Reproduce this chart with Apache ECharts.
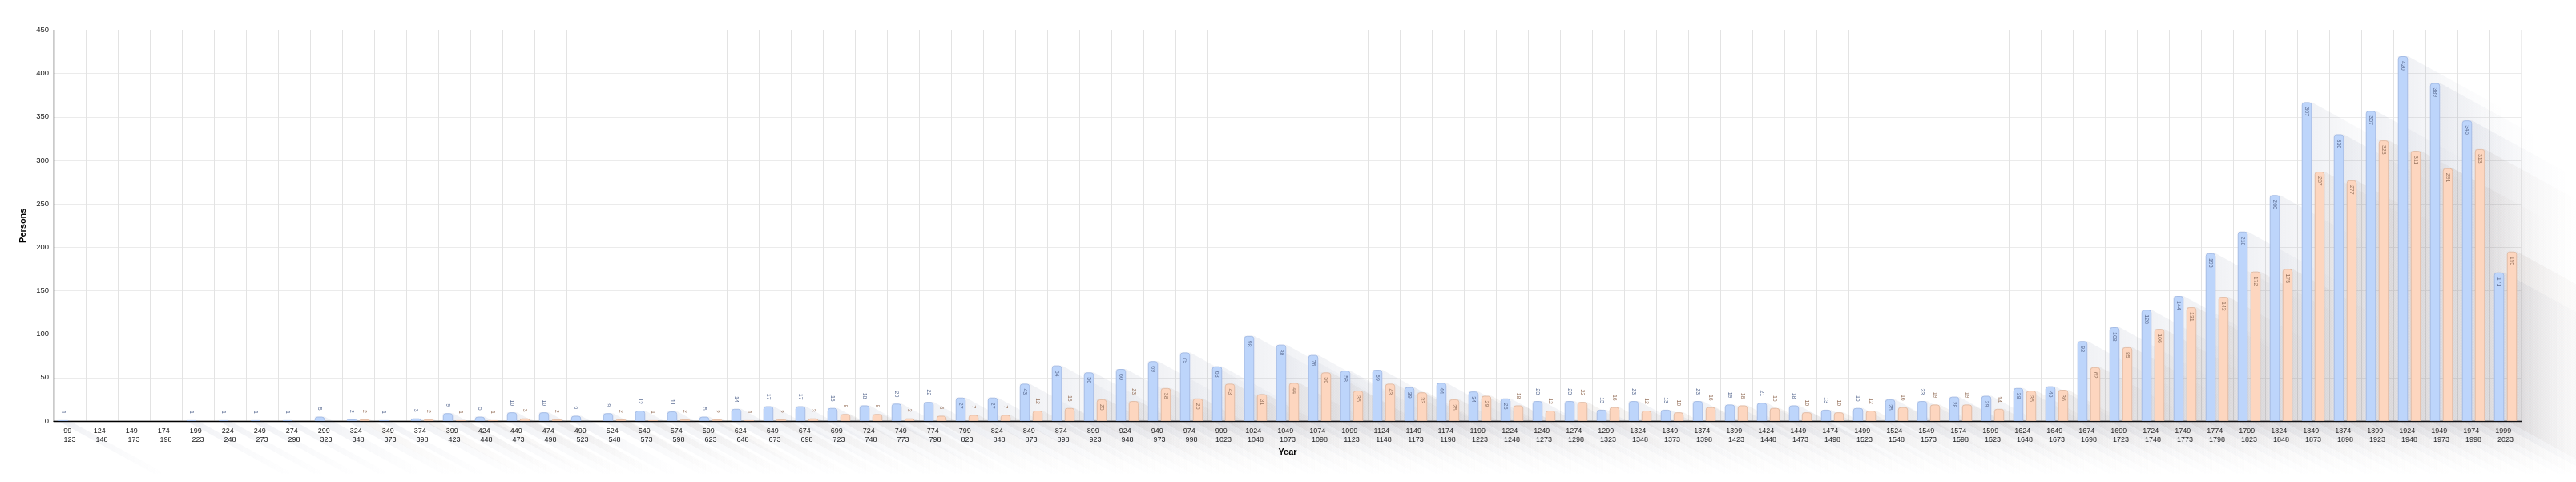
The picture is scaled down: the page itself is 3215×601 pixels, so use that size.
<!DOCTYPE html>
<html><head><meta charset="utf-8">
<script src="https://cdn.jsdelivr.net/npm/echarts@6/dist/echarts.min.js"></script>
<style>html,body{margin:0;padding:0;background:#fff}#c{width:3215px;height:601px}</style>
</head><body><div id="c"></div>
<script>
const categories = ['99 - 123','124 - 148','149 - 173','174 - 198','199 - 223','224 - 248','249 - 273','274 - 298','299 - 323','324 - 348','349 - 373','374 - 398','399 - 423','424 - 448','449 - 473','474 - 498','499 - 523','524 - 548','549 - 573','574 - 598','599 - 623','624 - 648','649 - 673','674 - 698','699 - 723','724 - 748','749 - 773','774 - 798','799 - 823','824 - 848','849 - 873','874 - 898','899 - 923','924 - 948','949 - 973','974 - 998','999 - 1023','1024 - 1048','1049 - 1073','1074 - 1098','1099 - 1123','1124 - 1148','1149 - 1173','1174 - 1198','1199 - 1223','1224 - 1248','1249 - 1273','1274 - 1298','1299 - 1323','1324 - 1348','1349 - 1373','1374 - 1398','1399 - 1423','1424 - 1448','1449 - 1473','1474 - 1498','1499 - 1523','1524 - 1548','1549 - 1573','1574 - 1598','1599 - 1623','1624 - 1648','1649 - 1673','1674 - 1698','1699 - 1723','1724 - 1748','1749 - 1773','1774 - 1798','1799 - 1823','1824 - 1848','1849 - 1873','1874 - 1898','1899 - 1923','1924 - 1948','1949 - 1973','1974 - 1998','1999 - 2023'];

const blueValues = [1,null,null,null,1,1,1,1,5,
  2,1,3,9,5,10,10,6,9,12,11,
  5,14,17,17,15,18,20,22,27,27,
  43,64,56,60,69,79,63,98,88,76,
  58,59,39,44,34,26,23,23,13,23,
  13,23,19,21,18,13,15,25,23,28,
  29,38,40,92,108,128,144,193,218,260,
  367,330,357,420,389,346,171];

const orangeValues = [null,null,null,null,null,null,null,null,null,
  2,null,2,1,1,3,2,null,2,1,2,
  2,1,2,3,8,8,3,6,7,7,
  12,15,25,23,38,26,43,31,44,56,
  35,43,33,25,29,18,12,22,16,12,
  10,16,18,15,10,10,12,16,19,19,
  14,35,36,62,85,106,131,143,172,175,
  287,277,323,311,291,313,195];

const yMin = 0, yMax = 450, yInterval = 50;

const BAR_W = 12.5, GAP = 0.28, SH_L = 120, SH_K = 0.55;
const FONT = 'Arial, "Liberation Sans", Helvetica, sans-serif';

function barData(vals) {
  return vals.map(v => {
    if (v == null) return null;
    const inside = v >= 24;
    return {
      value: v,
      label: inside
        ? {position: 'insideTop', distance: 6, align: 'left', verticalAlign: 'middle'}
        : {position: 'top', distance: 8, align: 'right', verticalAlign: 'middle'}
    };
  });
}

function shadowRender(first, rgb) {
  return function (params, api) {
    const i = api.value(0), v = api.value(1);
    if (v == null || isNaN(v)) return;
    const top = api.coord([i, v]);
    const base = api.coord([i, 0]);
    const half = BAR_W * (2 + GAP) / 2;
    const x0 = first ? top[0] - half : top[0] + BAR_W * GAP / 2;
    const x1 = x0 + BAR_W;
    const yT = top[1], yB = base[1];
    const dx = SH_L, dy = SH_L * SH_K;
    return {
      type: 'polygon',
      silent: true,
      shape: {points: [[x0, yT], [x1, yT], [x1 + dx, yT + dy], [x1 + dx, yB + dy], [x0 + dx, yB + dy], [x0, yB]]},
      style: {
        fill: {type: 'linear', x: x1, y: 0, x2: x1 + dx, y2: 0, global: true,
          colorStops: [
            {offset: 0, color: 'rgba(' + rgb + ',0.075)'},
            {offset: 0.45, color: 'rgba(' + rgb + ',0.032)'},
            {offset: 1, color: 'rgba(' + rgb + ',0)'}]}
      }
    };
  };
}

function shadowData(vals) {
  const out = [];
  vals.forEach((v, i) => { if (v != null) out.push([i, v]); });
  return out;
}

const chart = echarts.init(document.getElementById('c'), null, {renderer: 'canvas'});
chart.setOption({
  animation: false,
  textStyle: {fontFamily: FONT},
  grid: {left: 67, right: 68, top: 37.5, bottom: 76, show: true, borderColor: '#dcdcdc', borderWidth: 1},
  xAxis: {
    type: 'category',
    data: categories,
    name: 'Year', nameLocation: 'middle', nameGap: 32,
    nameTextStyle: {fontFamily: FONT, fontWeight: 'bold', fontSize: 11, color: '#000'},
    axisLine: {show: true, lineStyle: {color: '#000', width: 1.3}},
    axisTick: {show: false},
    splitLine: {show: true, interval: 0, lineStyle: {color: '#e3e3e3', width: 1}},
    axisLabel: {interval: 0, fontSize: 9, lineHeight: 11, color: '#222', margin: 7, fontFamily: FONT,
      formatter: v => v.replace(' - ', ' -\n')}
  },
  yAxis: {
    type: 'value', min: yMin, max: yMax, interval: yInterval,
    name: 'Persons', nameLocation: 'middle', nameGap: 24,
    nameTextStyle: {fontFamily: FONT, fontWeight: 'bold', fontSize: 11, color: '#000'},
    axisLine: {show: true, lineStyle: {color: '#000', width: 1.3}},
    axisTick: {show: false},
    splitLine: {show: true, lineStyle: {color: '#ebebeb', width: 1}},
    axisLabel: {fontSize: 9.5, color: '#222', margin: 6, fontFamily: FONT}
  },
  series: [
    {type: 'custom', name: 'shadowA', z: 1, silent: true, clip: false,
      renderItem: shadowRender(true, '60,75,120'), data: shadowData(blueValues), encode: {x: 0, y: 1}},
    {type: 'custom', name: 'shadowB', z: 1, silent: true, clip: false,
      renderItem: shadowRender(false, '110,85,70'), data: shadowData(orangeValues), encode: {x: 0, y: 1}},
    {type: 'bar', name: 'Series 1', z: 3, barWidth: BAR_W, barGap: (GAP * 100) + '%',
      itemStyle: {color: '#bdd5fb', borderColor: '#a6bde6', borderWidth: 1, borderRadius: [3, 3, 0, 0]},
      label: {show: true, rotate: -90, fontSize: 7, color: '#5f7096', fontFamily: FONT},
      data: barData(blueValues)},
    {type: 'bar', name: 'Series 2', z: 3, barWidth: BAR_W,
      itemStyle: {color: '#fdd6bf', borderColor: '#e3bda6', borderWidth: 1, borderRadius: [3, 3, 0, 0]},
      label: {show: true, rotate: -90, fontSize: 7, color: '#9a7762', fontFamily: FONT},
      data: barData(orangeValues)}
  ]
});
</script>
</body></html>
